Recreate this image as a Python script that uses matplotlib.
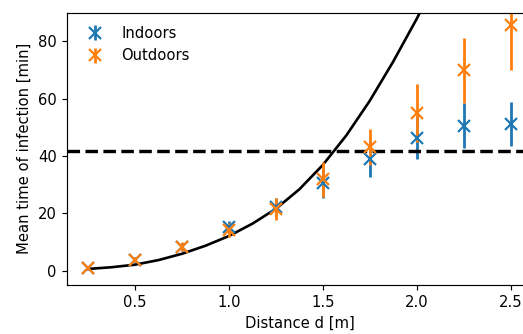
import matplotlib
matplotlib.use("Agg")
import matplotlib.pyplot as plt

# mean infection time per distance, with error bars
distances = [0.25, 0.5, 0.75, 1.0, 1.25, 1.5, 1.75, 2.0, 2.25, 2.5]
indoor_mean = [0.8, 3.8, 8.3, 15.2, 22.2, 30.5, 39.0, 46.4, 50.6, 51.2]
indoor_err = [0.4, 0.8, 1.3, 2.2, 3.2, 5.0, 6.2, 7.4, 7.8, 7.7]
outdoor_mean = [0.8, 3.8, 8.4, 14.2, 21.6, 31.9, 43.1, 55.1, 69.9, 85.8]
outdoor_err = [0.4, 0.9, 1.5, 2.4, 3.8, 6.1, 6.4, 10.1, 11.3, 15.9]

# model curve
model_d = [0.25, 0.375, 0.5, 0.625, 0.75, 0.875, 1.0, 1.125, 1.25,
           1.375, 1.5, 1.625, 1.75, 1.875, 2.0, 2.125]
model_t = [0.6, 1.2, 2.1, 3.7, 5.9, 8.7, 12.1, 16.4, 21.6,
           28.4, 36.9, 47.2, 59.3, 73.0, 87.9, 104.0]

threshold = 41.6

dpi = 106
fig = plt.figure(figsize=(523 / dpi, 334 / dpi), dpi=dpi)
ax = fig.add_axes([67 / 523, 49 / 334, 464.8 / 523, 272.3 / 334])

ax.plot(model_d, model_t, color="black", lw=1.8)
ax.errorbar(distances, indoor_mean, yerr=indoor_err, fmt="x", color="tab:blue",
            markersize=8, mew=1.5, elinewidth=1.9, capsize=0, label="Indoors")
ax.errorbar(distances, outdoor_mean, yerr=outdoor_err, fmt="x", color="tab:orange",
            markersize=8, mew=1.5, elinewidth=1.9, capsize=0, label="Outdoors")
ax.axhline(threshold, color="black", ls="--", lw=2.3)

ax.set_xlim(0.1375, 2.6125)
ax.set_ylim(-5, 90)
ax.set_xticks([0.5, 1.0, 1.5, 2.0, 2.5])
ax.set_yticks([0, 20, 40, 60, 80])
ax.set_xlabel("Distance d [m]")
ax.set_ylabel("Mean time of infection [min]")
ax.legend(loc="upper left", frameon=False)

fig.savefig("out.png", dpi=dpi)
